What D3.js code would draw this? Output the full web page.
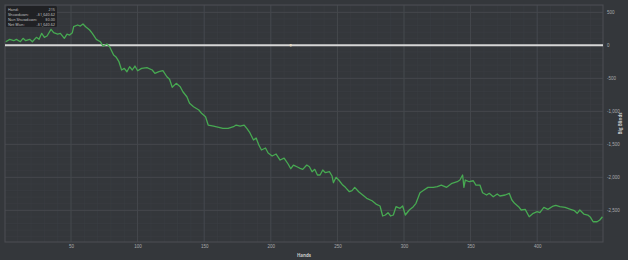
<!DOCTYPE html>
<html>
<head>
<meta charset="utf-8">
<script src="https://cdn.jsdelivr.net/npm/d3@7"></script>
<style>
  html, body { margin: 0; padding: 0; background: #34373b; }
  svg { display: block; font-family: "Open Sans", "DejaVu Sans", sans-serif; }
</style>
</head>
<body>
<svg id="chart" width="628" height="260"></svg>
<script>
// hand number and running result in big blinds
const hands = [1, 4, 7, 9, 12, 14, 16, 19, 21, 24, 26, 28, 30, 32, 35, 37, 40, 42, 45, 47,
  49, 51, 52, 55, 57, 59, 61, 64, 66, 69, 72, 74, 77, 79, 82, 84, 86, 88, 90, 92,
  94, 96, 98, 100, 103, 107, 111, 113, 116, 119, 122, 124, 126, 129, 132, 134, 137, 139, 142, 146,
  148, 151, 153, 157, 161, 164, 168, 172, 174, 177, 180, 182, 184, 187, 189, 191, 193, 196, 198, 201,
  204, 207, 210, 213, 215, 217, 220, 222, 224, 227, 229, 231, 233, 235, 237, 239, 241, 244, 246, 247,
  249, 251, 254, 256, 259, 261, 263, 266, 269, 272, 276, 279, 282, 284, 286, 288, 290, 292, 294, 297,
  299, 301, 304, 307, 309, 312, 315, 318, 322, 325, 328, 332, 336, 340, 342, 344, 345, 346, 349, 352,
  354, 357, 359, 362, 364, 367, 370, 372, 376, 379, 381, 383, 386, 388, 391, 394, 397, 400, 402, 405,
  408, 412, 414, 417, 421, 425, 428, 430, 432, 435, 438, 440, 442, 445, 447, 449];
const bigBlinds = [55, 91, 70, 91, 55, 106, 70, 91, 55, 121, 91, 182, 121, 141, 242, 191, 171, 182, 106, 171,
  156, 191, 282, 308, 292, 323, 282, 232, 182, 91, 55, -11, 20, -21, -147, -182, -248, -374, -349, -400,
  -324, -374, -314, -385, -349, -339, -374, -424, -400, -385, -476, -515, -636, -576, -627, -703, -779, -879, -930, -980,
  -1030, -1082, -1208, -1223, -1242, -1258, -1258, -1233, -1208, -1223, -1208, -1258, -1314, -1435, -1405, -1511, -1586, -1556, -1632, -1677,
  -1647, -1738, -1708, -1798, -1870, -1814, -1844, -1864, -1879, -1814, -1839, -1915, -1879, -1965, -1965, -1889, -1930, -1915, -1980, -2082,
  -2000, -2041, -2117, -2152, -2218, -2203, -2152, -2218, -2268, -2318, -2355, -2405, -2435, -2586, -2571, -2536, -2586, -2571, -2445, -2470,
  -2435, -2571, -2495, -2445, -2394, -2233, -2193, -2152, -2152, -2142, -2117, -2152, -2091, -2067, -2041, -1965, -2152, -2041, -2067, -2052,
  -2117, -2117, -2233, -2268, -2242, -2294, -2253, -2283, -2268, -2242, -2344, -2394, -2445, -2495, -2485, -2597, -2545, -2521, -2536, -2455,
  -2485, -2435, -2424, -2445, -2455, -2485, -2506, -2545, -2495, -2556, -2571, -2606, -2673, -2673, -2647, -2597];

const xTicks = [50, 100, 150, 200, 250, 300, 350, 400];
const yTicks = [500, 0, -500, -1000, -1500, -2000, -2500];

const tipLabels = ["Hand:", "Showdown:", "Non Showdown:", "Net Won:"];
const tipValues = ["215", "-$1,640.62", "$0.00", "-$1,640.62"];
const hoverHand = 215;

const data = hands.map((h, i) => ({hand: h, value: bigBlinds[i]}));

const svg = d3.select("#chart");
const width = 628, height = 260;
const margin = {top: 5, right: 25, bottom: 18, left: 5};

svg.append("rect")
    .attr("width", width).attr("height", height)
    .attr("fill", "#34373b");

const x = d3.scaleLinear()
    .domain([0, 450])
    .range([4.4, 603.8]);

const y = d3.scaleLinear()
    .domain([-2980, 611])
    .range([height - margin.bottom, margin.top]);

const plotL = margin.left, plotR = width - margin.right;
const plotT = margin.top, plotB = height - margin.bottom;

// minor grid
svg.append("g")
    .selectAll("line")
    .data(d3.range(10, 450, 10))
    .join("line")
    .attr("x1", d => x(d)).attr("x2", d => x(d))
    .attr("y1", plotT).attr("y2", plotB)
    .attr("stroke", "#3b3e43").attr("stroke-width", 0.6);

svg.append("g")
    .selectAll("line")
    .data(d3.range(-2900, 601, 100))
    .join("line")
    .attr("x1", plotL).attr("x2", plotR)
    .attr("y1", d => y(d)).attr("y2", d => y(d))
    .attr("stroke", "#3b3e43").attr("stroke-width", 0.6);

// major grid
svg.append("g")
    .selectAll("line")
    .data(xTicks)
    .join("line")
    .attr("x1", d => x(d)).attr("x2", d => x(d))
    .attr("y1", plotT).attr("y2", plotB)
    .attr("stroke", "#45484d").attr("stroke-width", 1);

svg.append("g")
    .selectAll("line")
    .data(yTicks)
    .join("line")
    .attr("x1", plotL).attr("x2", plotR)
    .attr("y1", d => y(d)).attr("y2", d => y(d))
    .attr("stroke", "#45484d").attr("stroke-width", 1);

// plot frame
svg.append("rect")
    .attr("x", plotL).attr("y", plotT)
    .attr("width", plotR - plotL).attr("height", plotB - plotT)
    .attr("fill", "none")
    .attr("stroke", "#4c4f54").attr("stroke-width", 1);

// zero line
svg.append("line")
    .attr("x1", plotL).attr("x2", plotR)
    .attr("y1", y(0)).attr("y2", y(0))
    .attr("stroke", "#d6d6d6").attr("stroke-width", 2);

svg.append("circle")
    .attr("cx", x(hoverHand)).attr("cy", y(0)).attr("r", 1.2)
    .attr("fill", "#e8d9c0");

// result line
const line = d3.line()
    .x(d => x(d.hand))
    .y(d => y(d.value));

svg.append("path")
    .datum(data)
    .attr("fill", "none")
    .attr("stroke", "#47a952")
    .attr("stroke-width", 1.3)
    .attr("stroke-linejoin", "round")
    .attr("d", line);

// axes
const xAxis = svg.append("g")
    .attr("transform", `translate(0, ${plotB})`)
    .call(d3.axisBottom(x).tickValues(xTicks).tickSize(0).tickPadding(3));
xAxis.select(".domain").remove();
xAxis.selectAll("text").attr("fill", "#a9abad").attr("font-size", 4.5);

const yAxis = svg.append("g")
    .attr("transform", `translate(${plotR}, 0)`)
    .call(d3.axisRight(y).tickValues(yTicks).tickSize(0).tickPadding(4));
yAxis.select(".domain").remove();
yAxis.selectAll("text").attr("fill", "#a9abad").attr("font-size", 4.5)
    .text(d => d3.format(",")(d).replace("−", "-"));

svg.append("text")
    .attr("x", (plotL + plotR) / 2).attr("y", 256.5)
    .attr("text-anchor", "middle")
    .attr("fill", "#c8c9ca").attr("font-size", 4.5).attr("font-weight", "bold")
    .text("Hands");

svg.append("text")
    .attr("transform", `translate(622, ${(plotT + plotB) / 2}) rotate(-90)`)
    .attr("text-anchor", "middle")
    .attr("fill", "#c8c9ca").attr("font-size", 4.5).attr("font-weight", "bold")
    .text("Big Blinds");

// tooltip box
const tip = svg.append("g").attr("transform", "translate(6, 6)");
tip.append("rect")
    .attr("width", 51).attr("height", 21).attr("rx", 1.5)
    .attr("fill", "#1e2023").attr("opacity", 0.92);
tip.selectAll("text.lab")
    .data(tipLabels)
    .join("text")
    .attr("class", "lab")
    .attr("x", 2).attr("y", (d, i) => 4.6 + i * 5)
    .attr("fill", "#c9cacb").attr("font-size", 3.8)
    .text(d => d);
tip.selectAll("text.val")
    .data(tipValues)
    .join("text")
    .attr("class", "val")
    .attr("x", 49).attr("y", (d, i) => 4.6 + i * 5)
    .attr("text-anchor", "end")
    .attr("fill", "#c9cacb").attr("font-size", 3.8)
    .text(d => d);
</script>
</body>
</html>
